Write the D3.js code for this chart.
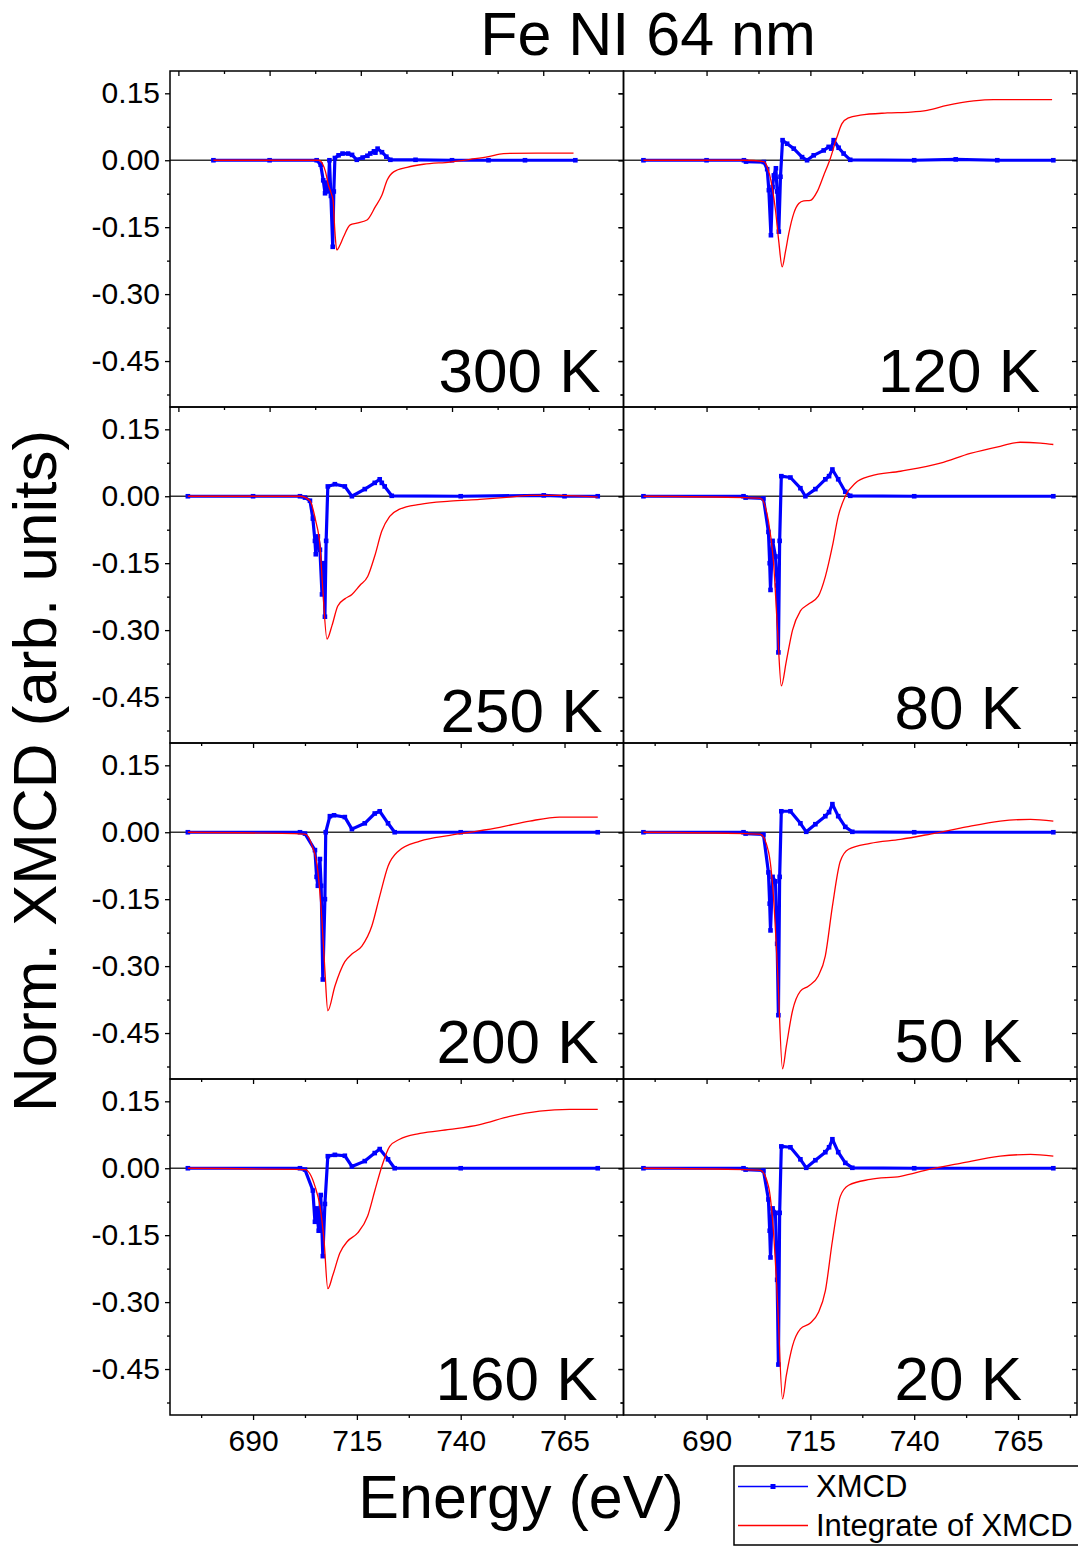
<!DOCTYPE html>
<html>
<head>
<meta charset="utf-8">
<script src="https://cdn.jsdelivr.net/npm/d3@7"></script>
<style>
  html, body { margin: 0; padding: 0; background: #fff; }
  svg { display: block; }
  text { font-family: "Liberation Sans", Arial, Helvetica, sans-serif; fill: #000; }
</style>
</head>
<body>
<svg id="chart" width="1078" height="1546"></svg>
<script>
// ---- Data: [energy (eV), normalised signal] ----
const xmcd300 = [[674.6,0],[690,0],[702.9,0],[704.0,-0.01],[704.7,-0.045],[705.2,-0.074],[705.7,-0.05],[706.1,-0.07],[706.4,0.0],[706.8,-0.08],[707.3,-0.194],[707.6,-0.07],[707.9,0.005],[708.9,0.011],[710.0,0.015],[711.5,0.015],[712.6,0.012],[713.9,0.001],[715.5,0.006],[716.8,0.01],[717.6,0.015],[718.6,0.02],[719.0,0.017],[719.6,0.026],[720.8,0.018],[722.0,0.008],[723.1,0.001],[730,0.001],[740,0],[750,0],[760,0],[773.8,0]];
const int300 = [[674.6,0],[703.5,0],[704.5,-0.008],[705.3,-0.025],[706.1,-0.055],[706.8,-0.072],[707.4,-0.09],[707.9,-0.16],[708.4,-0.201],[709.3,-0.19],[710.3,-0.171],[712.1,-0.145],[713.9,-0.141],[716.7,-0.134],[719.0,-0.104],[720.8,-0.078],[722.2,-0.045],[724.0,-0.026],[727.7,-0.016],[732.2,-0.009],[739.5,-0.004],[745.0,0.002],[750.0,0.008],[754.1,0.015],[763.3,0.016],[773.3,0.016]];

const xmcd120 = [[674.8,0],[690,0],[699,0],[699.5,-0.003],[703.8,-0.004],[704.6,-0.02],[705.0,-0.067],[705.5,-0.168],[705.9,-0.06],[706.2,-0.034],[706.7,-0.018],[707.0,-0.07],[707.4,-0.16],[707.8,-0.037],[708.3,0.045],[709.4,0.037],[711.0,0.026],[713.0,0.007],[714.2,0.0],[715.8,0.011],[718.2,0.022],[719.4,0.03],[720.0,0.026],[720.6,0.045],[721.8,0.028],[723.0,0.015],[724.6,0.001],[740,0],[750,0.002],[760,0],[773.5,0]];
const int120 = [[674.8,0],[699,0],[703.8,-0.003],[704.6,-0.015],[705.8,-0.06],[706.6,-0.112],[707.4,-0.183],[708.2,-0.239],[709.0,-0.205],[709.8,-0.164],[711.0,-0.119],[712.2,-0.097],[713.4,-0.091],[715.0,-0.09],[716.6,-0.071],[718.2,-0.034],[719.8,0.004],[721.4,0.052],[722.6,0.082],[724.2,0.095],[727.0,0.101],[733.5,0.106],[739.1,0.108],[743.1,0.112],[747.9,0.123],[754.3,0.133],[759.1,0.136],[773.2,0.136]];

const xmcd250 = [[674.3,0],[690,0],[701.3,0],[702.5,-0.003],[703.7,-0.01],[704.4,-0.05],[704.9,-0.1],[705.1,-0.13],[705.6,-0.09],[706.1,-0.12],[706.6,-0.22],[707.0,-0.15],[707.3,-0.27],[707.6,-0.1],[708.0,0.022],[709.7,0.027],[712.1,0.022],[713.8,0.0],[716.9,0.016],[719.3,0.03],[720.5,0.038],[721.0,0.03],[721.7,0.022],[723.4,0.001],[740,0],[760,0.002],[765,0],[773,0]];
const int250 = [[674.3,0],[701.3,0],[703.7,-0.01],[705.1,-0.056],[706.1,-0.11],[706.8,-0.21],[707.8,-0.32],[709.0,-0.29],[710.4,-0.246],[712.1,-0.23],[713.8,-0.22],[715.7,-0.2],[717.6,-0.18],[719.3,-0.134],[721.0,-0.078],[722.9,-0.045],[725.3,-0.029],[730.2,-0.018],[737.4,-0.011],[744.6,-0.007],[751.8,-0.002],[756.6,0.002],[763.8,0.002],[773,-0.002]];

const xmcd80 = [[674.8,0],[698.9,0],[699.4,-0.003],[703.7,-0.005],[704.9,-0.08],[705.2,-0.15],[705.4,-0.21],[705.9,-0.1],[706.6,-0.135],[707.0,-0.2],[707.3,-0.35],[707.6,-0.1],[708.0,0.045],[710.2,0.042],[712.6,0.018],[713.8,0.0],[716.2,0.016],[718.6,0.038],[719.5,0.045],[720.3,0.06],[721.7,0.038],[723.4,0.01],[724.6,0.001],[740,0],[773.5,0]];
const int80 = [[674.8,0],[699.4,-0.003],[703.0,-0.005],[704.9,-0.056],[706.1,-0.145],[707.1,-0.3],[708.0,-0.425],[709.2,-0.37],[710.7,-0.3],[712.6,-0.257],[714.5,-0.242],[716.9,-0.224],[718.6,-0.18],[720.3,-0.112],[721.7,-0.045],[723.4,0.0],[725.8,0.029],[729.4,0.045],[736.7,0.056],[746.3,0.074],[753.5,0.096],[760.7,0.112],[765.5,0.121],[770.4,0.119],[773.5,0.116]];

const xmcd200 = [[674.3,0],[701.3,0],[702.5,-0.003],[704.9,-0.04],[705.3,-0.1],[705.6,-0.12],[706.1,-0.06],[706.4,-0.12],[706.8,-0.33],[707.3,-0.15],[707.5,0.0],[708.5,0.036],[709.5,0.038],[712.1,0.034],[713.8,0.007],[716.9,0.02],[719.3,0.042],[720.5,0.047],[722.5,0.02],[724.1,0.0],[740,0],[773,0]];
const int200 = [[674.3,0],[702.5,-0.004],[704.2,-0.03],[705.6,-0.087],[706.6,-0.2],[707.3,-0.31],[708.0,-0.4],[709.7,-0.345],[712.1,-0.29],[713.8,-0.273],[716.2,-0.255],[718.6,-0.21],[720.5,-0.143],[722.5,-0.076],[724.9,-0.043],[730.2,-0.02],[737.4,-0.007],[742.2,0],[749.4,0.011],[756.6,0.025],[763.8,0.034],[773,0.034]];

const xmcd50 = [[674.8,0],[698.9,0],[699.4,-0.003],[703.7,-0.005],[704.9,-0.09],[705.2,-0.16],[705.4,-0.22],[705.9,-0.1],[706.6,-0.11],[707.0,-0.25],[707.3,-0.41],[707.6,-0.1],[708.0,0.047],[710.2,0.047],[712.6,0.02],[714.0,0.001],[716.2,0.018],[718.6,0.036],[719.5,0.045],[720.3,0.063],[721.7,0.036],[723.4,0.012],[725.1,0.001],[740,0],[773.5,0]];
const int50 = [[674.8,0],[699.4,-0.003],[703.0,-0.005],[704.9,-0.043],[706.1,-0.143],[707.1,-0.31],[708.3,-0.53],[709.2,-0.48],[710.7,-0.4],[712.6,-0.356],[714.5,-0.345],[716.9,-0.322],[718.6,-0.277],[720.3,-0.166],[722.2,-0.065],[724.2,-0.038],[729.4,-0.025],[736.7,-0.016],[743.9,-0.004],[751.1,0.009],[760.7,0.025],[768.0,0.029],[773.5,0.025]];

const xmcd160 = [[674.3,0],[701.3,0],[702.5,-0.003],[704.4,-0.05],[704.9,-0.12],[705.3,-0.09],[705.8,-0.14],[706.3,-0.06],[706.8,-0.197],[707.3,-0.08],[708.0,0.027],[709.7,0.03],[712.1,0.028],[713.8,0.004],[716.9,0.016],[719.3,0.034],[720.5,0.043],[722.5,0.02],[724.1,0.0],[740,0],[773,0]];
const int160 = [[674.3,0],[702.5,-0.003],[704.9,-0.04],[706.1,-0.085],[707.1,-0.163],[708.0,-0.27],[709.2,-0.24],[710.9,-0.19],[712.8,-0.163],[715.2,-0.145],[717.6,-0.107],[719.3,-0.051],[721.0,0.004],[722.9,0.049],[725.3,0.065],[730.2,0.078],[737.4,0.087],[744.6,0.098],[751.8,0.116],[759.0,0.128],[766.2,0.132],[773,0.132]];

const xmcd20 = [[674.8,0],[698.9,0],[699.4,-0.003],[703.7,-0.005],[704.9,-0.07],[705.2,-0.14],[705.4,-0.2],[705.9,-0.09],[706.6,-0.1],[707.0,-0.25],[707.3,-0.44],[707.6,-0.1],[708.0,0.049],[710.2,0.047],[712.6,0.02],[714.0,0.001],[716.2,0.018],[718.6,0.036],[719.5,0.047],[720.3,0.065],[721.7,0.036],[723.4,0.012],[725.1,0.001],[740,0],[773.5,0]];
const int20 = [[674.8,0],[699.4,-0.003],[703.0,-0.005],[704.9,-0.04],[706.1,-0.14],[707.1,-0.3],[708.3,-0.517],[709.2,-0.465],[710.7,-0.398],[712.6,-0.36],[715.0,-0.347],[716.9,-0.324],[718.6,-0.275],[720.3,-0.163],[722.2,-0.063],[724.2,-0.038],[729.4,-0.025],[736.7,-0.018],[743.9,-0.002],[751.1,0.011],[760.7,0.027],[768.0,0.031],[773.5,0.027]];

// Panel temperatures, column-major (left column top to bottom, then right column)
const temperatures = ["300 K", "250 K", "200 K", "160 K", "120 K", "80 K", "50 K", "20 K"];

// Axis ticks
const yMajorTicks = [0.15, 0.00, -0.15, -0.30, -0.45];
const yMinorTicks = [0.075, -0.075, -0.225, -0.375, -0.525];
const xMajorTicks = [665, 690, 715, 740, 765];
const xMinorTicks = [677.5, 702.5, 727.5, 752.5, 777.5];
const yDomain = [-0.553, 0.2];
const xDomainStd = [670, 779.2];
const xDomainWide = [662.7, 787];

// Texts
const titleText = "Fe NI 64 nm";
const xTitle = "Energy (eV)";
const yTitle = "Norm. XMCD (arb. units)";
const legendLabels = ["XMCD", "Integrate of XMCD"];

// ---- Layout ----
const colX = [170, 623.5];
const rowY = [71, 407, 743, 1079];
const pw = 453.5, ph = 336;

const panels = [
  { t: temperatures[0], col: 0, row: 0, xmcd: xmcd300, integ: int300, xd: xDomainWide, lx: -23, ly: -15 },
  { t: temperatures[1], col: 0, row: 1, xmcd: xmcd250, integ: int250, xd: xDomainStd, lx: -21, ly: -11 },
  { t: temperatures[2], col: 0, row: 2, xmcd: xmcd200, integ: int200, xd: xDomainStd, lx: -25, ly: -16 },
  { t: temperatures[3], col: 0, row: 3, xmcd: xmcd160, integ: int160, xd: xDomainStd, lx: -26, ly: -15 },
  { t: temperatures[4], col: 1, row: 0, xmcd: xmcd120, integ: int120, xd: xDomainStd, lx: -37, ly: -15 },
  { t: temperatures[5], col: 1, row: 1, xmcd: xmcd80,  integ: int80,  xd: xDomainStd, lx: -55, ly: -14 },
  { t: temperatures[6], col: 1, row: 2, xmcd: xmcd50,  integ: int50,  xd: xDomainStd, lx: -55, ly: -17 },
  { t: temperatures[7], col: 1, row: 3, xmcd: xmcd20,  integ: int20,  xd: xDomainStd, lx: -55, ly: -15 }
];

const svg = d3.select("#chart");
const fmtY = v => (v < 0 ? "-" : "") + Math.abs(v).toFixed(2);
const blue = "#0000ff", red = "#ff0000";

const y = d3.scaleLinear().domain(yDomain).range([ph, 0]);

function inDomain(ticks, dom) { return ticks.filter(t => t >= dom[0] && t <= dom[1]); }

function styleAxis(g) {
  g.select(".domain").remove();
  g.selectAll(".tick line").attr("stroke", "#000").attr("stroke-width", 1.3);
}

panels.forEach(p => {
  const g = svg.append("g").attr("transform", `translate(${colX[p.col]},${rowY[p.row]})`);
  const x = d3.scaleLinear().domain(p.xd).range([0, pw]);
  const xMaj = inDomain(xMajorTicks, p.xd), xMin = inDomain(xMinorTicks, p.xd);

  // zero reference line
  g.append("line").attr("x1", 0).attr("x2", pw).attr("y1", y(0)).attr("y2", y(0))
    .attr("stroke", "#333").attr("stroke-width", 1.4);

  // XMCD trace with point markers
  g.append("path").datum(p.xmcd)
    .attr("fill", "none").attr("stroke", blue).attr("stroke-width", 3.2).attr("stroke-linejoin", "round")
    .attr("d", d3.line().x(d => x(d[0])).y(d => y(d[1])));
  g.append("g").selectAll("rect").data(p.xmcd).join("rect")
    .attr("x", d => x(d[0]) - 2.3).attr("y", d => y(d[1]) - 2.3)
    .attr("width", 4.6).attr("height", 4.6).attr("fill", blue);

  // integrated XMCD
  g.append("path").datum(p.integ)
    .attr("fill", "none").attr("stroke", red).attr("stroke-width", 1.3)
    .attr("d", d3.line().curve(d3.curveMonotoneX).x(d => x(d[0])).y(d => y(d[1])));

  // left axis (ticks outward)
  const left = g.append("g");
  left.call(d3.axisLeft(y).tickValues(yMajorTicks).tickSize(5).tickPadding(5)
    .tickFormat(p.col === 0 ? fmtY : () => ""));
  left.call(styleAxis);
  left.selectAll("text").attr("font-size", 30).attr("font-family", '"Liberation Sans", Arial, sans-serif');
  g.append("g").call(d3.axisLeft(y).tickValues(yMinorTicks).tickSize(3).tickFormat(() => "")).call(styleAxis);

  // right axis (ticks point into the panel)
  g.append("g").attr("transform", `translate(${pw},0)`)
    .call(d3.axisRight(y).tickValues(yMajorTicks).tickSize(-5).tickFormat(() => "")).call(styleAxis);
  g.append("g").attr("transform", `translate(${pw},0)`)
    .call(d3.axisRight(y).tickValues(yMinorTicks).tickSize(-3).tickFormat(() => "")).call(styleAxis);

  // top axis on first row only
  if (p.row === 0) {
    g.append("g").call(d3.axisBottom(x).tickValues(xMaj).tickSize(5).tickFormat(() => "")).call(styleAxis);
    g.append("g").call(d3.axisBottom(x).tickValues(xMin).tickSize(3).tickFormat(() => "")).call(styleAxis);
  }

  // bottom axis (ticks outward)
  const bottom = g.append("g").attr("transform", `translate(0,${ph})`);
  bottom.call(d3.axisBottom(x).tickValues(xMaj).tickSize(5).tickPadding(10)
    .tickFormat(p.row === 3 ? d3.format("d") : () => ""));
  bottom.call(styleAxis);
  bottom.selectAll("text").attr("font-size", 30).attr("font-family", '"Liberation Sans", Arial, sans-serif');
  g.append("g").attr("transform", `translate(0,${ph})`)
    .call(d3.axisBottom(x).tickValues(xMin).tickSize(3).tickFormat(() => "")).call(styleAxis);

  // frame
  g.append("rect").attr("width", pw).attr("height", ph)
    .attr("fill", "none").attr("stroke", "#000").attr("stroke-width", 1.5);

  // temperature label
  g.append("text").attr("x", pw + p.lx).attr("y", ph + p.ly)
    .attr("text-anchor", "end").attr("font-size", 62).text(p.t);
});

// titles
svg.append("text").attr("x", 648).attr("y", 55).attr("text-anchor", "middle")
  .attr("font-size", 61).text(titleText);
svg.append("text").attr("x", 521).attr("y", 1518).attr("text-anchor", "middle")
  .attr("font-size", 61).text(xTitle);
svg.append("text").attr("transform", "translate(56,771) rotate(-90)").attr("text-anchor", "middle")
  .attr("font-size", 62).text(yTitle);

// legend
const lg = svg.append("g");
lg.append("rect").attr("x", 734).attr("y", 1466).attr("width", 360).attr("height", 79)
  .attr("fill", "#fff").attr("stroke", "#000").attr("stroke-width", 1.5);
lg.append("line").attr("x1", 738).attr("x2", 808).attr("y1", 1486.5).attr("y2", 1486.5)
  .attr("stroke", blue).attr("stroke-width", 1.3);
lg.append("rect").attr("x", 770.5).attr("y", 1484).attr("width", 5).attr("height", 5).attr("fill", blue);
lg.append("text").attr("x", 816).attr("y", 1497).attr("font-size", 31).text(legendLabels[0]);
lg.append("line").attr("x1", 738).attr("x2", 808).attr("y1", 1525.5).attr("y2", 1525.5)
  .attr("stroke", red).attr("stroke-width", 1.3);
lg.append("text").attr("x", 816).attr("y", 1536).attr("font-size", 31).text(legendLabels[1]);
</script>
</body>
</html>
